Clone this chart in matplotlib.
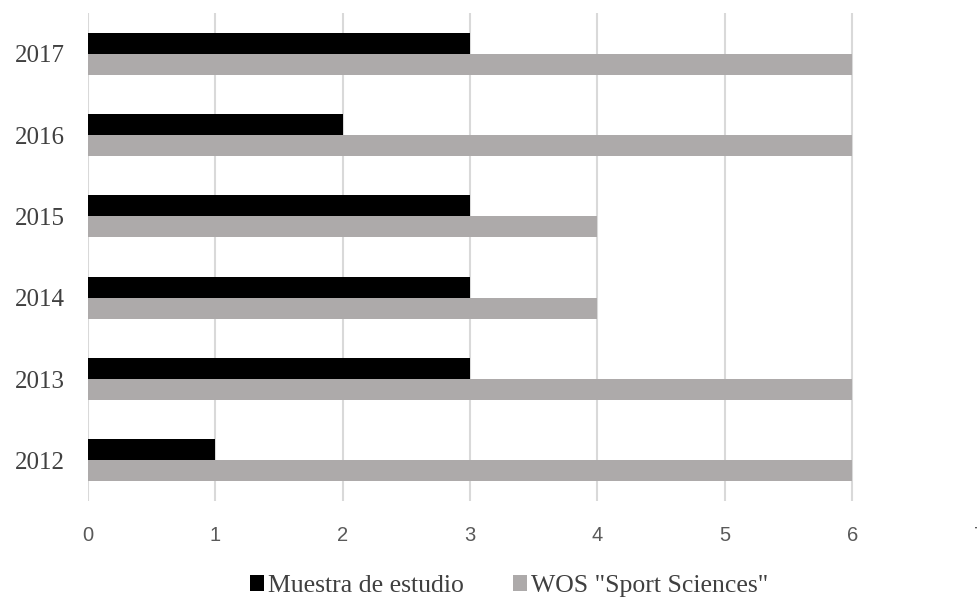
import numpy as np
import matplotlib
matplotlib.use("Agg")
import matplotlib.pyplot as plt

# data
years = ["2012", "2013", "2014", "2015", "2016", "2017"]
muestra = [1, 3, 3, 3, 2, 3]
wos = [6, 6, 4, 4, 6, 6]
x_ticks = [0, 1, 2, 3, 4, 5, 6, 7]

W, H = 978, 599
fig = plt.figure(figsize=(W / 100, H / 100), dpi=100)

# plot area in pixels: left 88, right ~979, top 13, bottom 501
left, right, top, bottom = 88, 979.5, 13, 501
ax = fig.add_axes([left / W, 1 - bottom / H, (right - left) / W, (bottom - top) / H])

y = np.arange(len(years))
h = 0.26
ax.barh(y + h / 2, muestra, height=h, color="black", label="Muestra de estudio", zorder=3)
ax.barh(y - h / 2, wos, height=h, color="#ADAAAA", label='WOS "Sport Sciences"', zorder=3)

ax.set_xlim(0, 7)
ax.set_ylim(-0.5, len(years) - 0.5)
ax.set_xticks(x_ticks)
ax.set_yticks(y)
ax.set_yticklabels(years, fontsize=18, family="Liberation Serif", color="#404040")
ax.tick_params(axis="y", length=0, pad=17)
ax.tick_params(axis="x", length=0, pad=18, labelsize=14.5, labelcolor="#595959")
for lbl in ax.get_xticklabels():
    lbl.set_family("Liberation Sans")

ax.grid(axis="x", color="#D9D9D9", linewidth=1.5, zorder=0)
ax.grid(axis="y", visible=False)
for s in ax.spines.values():
    s.set_visible(False)

# legend centred under the chart, as in the reference
fig.legend(loc="center", bbox_to_anchor=(509 / W, 1 - 586 / H), ncol=2,
           frameon=False, prop={"family": "Liberation Serif", "size": 18.5},
           handlelength=0.55, handleheight=0.6, handletextpad=0.15,
           columnspacing=1.9, labelcolor="#404040")

fig.savefig("out.png", dpi=100)
